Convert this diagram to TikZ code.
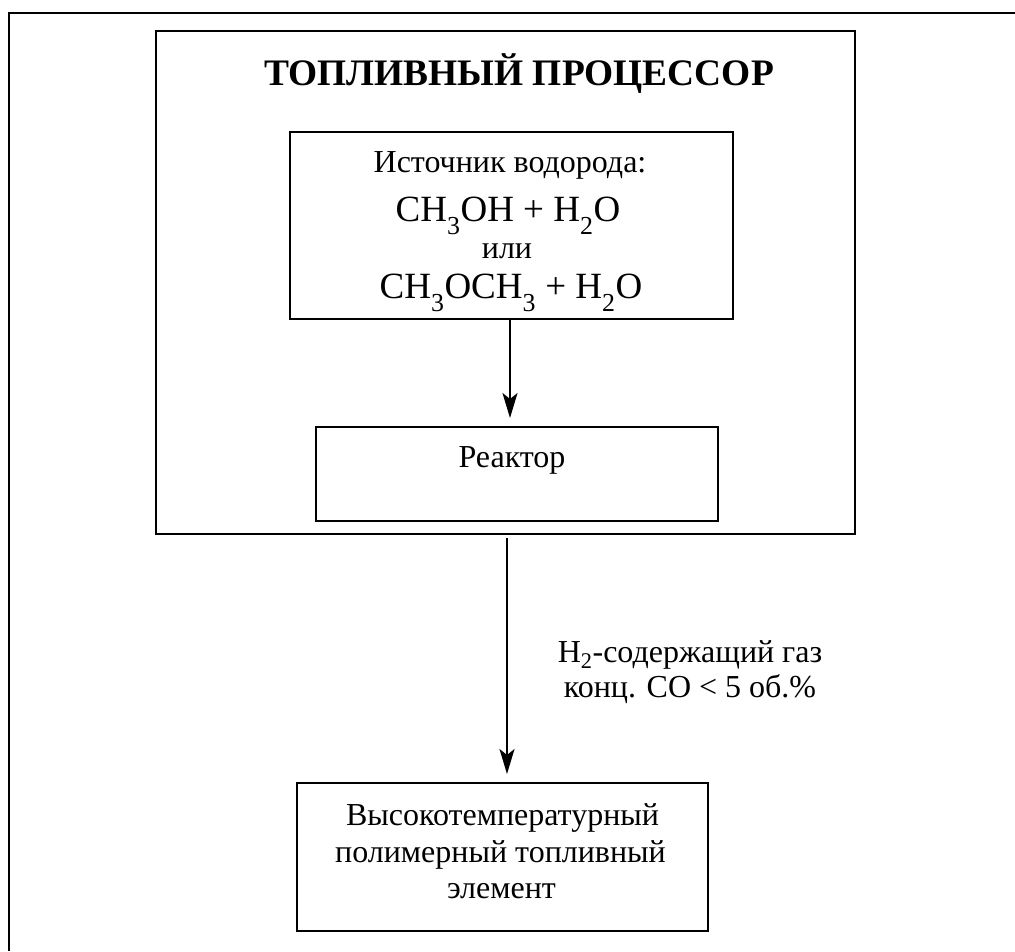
\documentclass[tikz,border=0pt]{standalone}
\usepackage{fontspec}
\setmainfont{Liberation Serif}
\usetikzlibrary{arrows.meta}
\tikzset{
  box/.style={draw, line width=2pt, rectangle, inner sep=0pt},
  frame/.style={line width=2.2pt},
  flow/.style={line width=2pt, -{Stealth[length=25pt,width=15pt,inset=6pt]}},
  txt/.style={anchor=base, inner sep=0pt, font=\fontsize{32}{38}\selectfont},
  chem/.style={anchor=base, inner sep=0pt, font=\fontsize{37}{42}\selectfont},
}
\newcommand{\sbs}[1]{\raisebox{-0.12em}{\textsubscript{#1}}}
\begin{document}
\begin{tikzpicture}[x=1pt,y=-1pt]
\useasboundingbox (0,0) rectangle (1015,951);
% outer frame (only top and left edges visible)
\coordinate (fTR) at (1015,13);
\coordinate (fTL) at (9,13);
\coordinate (fBL) at (9,951);
\draw[frame] (fTR) -- (fTL) -- (fBL);
% boxes
\node[box, minimum width=699pt, minimum height=503pt] (proc) at (505.5,282.5) {};
\node[box, minimum width=443pt, minimum height=187pt] (src) at (511.5,225.5) {};
\node[box, minimum width=402pt, minimum height=94pt] (reac) at (517,474) {};
\node[box, minimum width=411pt, minimum height=148pt] (fc) at (502.5,857) {};
% texts
\node[txt, font=\fontsize{37.4}{44}\selectfont\bfseries] (title) at (519,85) {ТОПЛИВНЫЙ ПРОЦЕССОР};
\node[txt] (s1) at (510,172) {Источник водорода:};
\node[chem] (s2) at (508,221) {CH\sbs{3}OH + H\sbs{2}O};
\node[txt] (s3) at (507,258) {или};
\node[chem] (s4) at (511,298) {CH\sbs{3}OCH\sbs{3} + H\sbs{2}O};
\node[txt] (r1) at (512,467) {Реактор};
\node[txt] (l1) at (690,662) {H\textsubscript{2}-содержащий газ};
\node[txt] (l2) at (690,697) {конц. CO < 5 об.\%};
\node[txt] (f1) at (502.5,825) {Высокотемпературный};
\node[txt] (f2) at (500.5,862) {полимерный топливный};
\node[txt] (f3) at (501.5,898) {элемент};
% connectors
\draw[flow] (src.south -| 510,0) -- ([yshift=8pt]reac.north -| 510,0);
\draw[flow] ([yshift=-3pt]proc.south -| 507,0) -- ([yshift=8pt]fc.north -| 507,0);
\end{tikzpicture}
\end{document}
